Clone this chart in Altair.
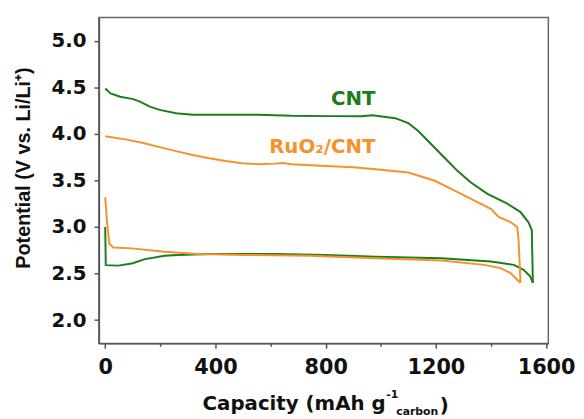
import altair as alt
import pandas as pd

# ---- data ----
cnt_dis_cap = [0, 2, 48, 100, 144, 216, 264, 383, 622, 800, 981, 1220, 1399, 1483, 1518, 1542, 1552]
cnt_dis_pot = [3.00, 2.59, 2.585, 2.61, 2.655, 2.69, 2.70, 2.71, 2.71, 2.70, 2.68, 2.664, 2.63, 2.593, 2.54, 2.47, 2.40]

cnt_chg_cap = [0, 19, 54, 102, 126, 162, 198, 257, 317, 437, 556, 676, 800, 930, 969, 1052, 1100, 1136, 1184,
               1232, 1279, 1327, 1387, 1459, 1507, 1536, 1548, 1552]
cnt_chg_pot = [4.486, 4.433, 4.398, 4.373, 4.345, 4.292, 4.257, 4.22, 4.204, 4.204, 4.204, 4.193, 4.19, 4.188,
               4.20, 4.168, 4.115, 4.03, 3.885, 3.74, 3.60, 3.478, 3.355, 3.25, 3.16, 3.05, 2.965, 2.40]

ru_dis_cap = [0, 6, 15, 30, 96, 216, 335, 500, 742, 981, 1220, 1375, 1435, 1471, 1495, 1507]
ru_dis_pot = [3.32, 3.07, 2.82, 2.78, 2.77, 2.735, 2.71, 2.70, 2.69, 2.665, 2.64, 2.593, 2.558, 2.505, 2.434, 2.40]

ru_chg_cap = [0, 78, 138, 198, 257, 317, 377, 437, 497, 556, 616, 646, 676, 800, 900, 981, 1100, 1196, 1268,
              1340, 1399, 1429, 1471, 1495, 1500, 1507]
ru_chg_pot = [3.973, 3.938, 3.902, 3.857, 3.814, 3.772, 3.737, 3.708, 3.684, 3.673, 3.68, 3.687, 3.673, 3.655,
              3.64, 3.62, 3.584, 3.496, 3.39, 3.283, 3.195, 3.106, 3.053, 3.0, 2.86, 2.40]

samples = ["CNT", "RuO\u2082/CNT"]
colors = ["#1b7d1b", "#f5922b"]
label_cap = [981, 981]
label_pot = [4.313, 3.793]

x_ticks = [0, 200, 400, 600, 800, 1000, 1200, 1400, 1600]
y_ticks = [2.0, 2.25, 2.5, 2.75, 3.0, 3.25, 3.5, 3.75, 4.0, 4.25, 4.5, 4.75, 5.0]

# ---- table ----
rows = []
for curve, sample, caps, pots in [
    ("cnt_dis", samples[0], cnt_dis_cap, cnt_dis_pot),
    ("cnt_chg", samples[0], cnt_chg_cap, cnt_chg_pot),
    ("ru_dis", samples[1], ru_dis_cap, ru_dis_pot),
    ("ru_chg", samples[1], ru_chg_cap, ru_chg_pot),
]:
    for i, (c, p) in enumerate(zip(caps, pots)):
        rows.append({"curve": curve, "sample": sample, "cap": c, "pot": p, "idx": i})
df = pd.DataFrame(rows)
ann = pd.DataFrame({"sample": samples, "cap": label_cap, "pot": label_pot})

xs = alt.Scale(domain=[-23, 1608], nice=False, zero=False)
ys = alt.Scale(domain=[1.75, 5.25], nice=False, zero=False)
cs = alt.Scale(domain=samples, range=colors)

x_axis = alt.Axis(
    values=x_ticks, title=None, grid=False, labelOverlap=False, labelFlush=False,
    labelExpr="datum.value % 400 === 0 ? format(datum.value, 'd') : ''",
    tickSize=alt.condition("datum.value % 400 === 0", alt.value(5), alt.value(3)),
    labelFont="DejaVu Sans", labelFontWeight="bold", labelFontSize=21, labelColor="#111",
    labelPadding=8,
)
y_axis = alt.Axis(
    values=y_ticks, grid=False, labelOverlap=False, labelFlush=False,
    labelExpr="abs(datum.value*2 - round(datum.value*2)) < 0.001 ? format(datum.value, '.1f') : ''",
    tickSize=alt.condition("abs(datum.value*2 - round(datum.value*2)) < 0.001", alt.value(5), alt.value(3)),
    labelFont="DejaVu Sans", labelFontWeight="bold", labelFontSize=20, labelColor="#111",
    labelPadding=8,
    title="Potential (V vs. Li/Li\u207a)", titleFont="Liberation Sans", titleFontWeight="bold",
    titleFontSize=20, titleColor="#111", titleX=-70, titleY=152, titleAngle=270,
    titleAlign="center", titleBaseline="alphabetic",
)

lines = alt.Chart(df).mark_line(strokeWidth=2).encode(
    x=alt.X("cap:Q", scale=xs, axis=x_axis),
    y=alt.Y("pot:Q", scale=ys, axis=y_axis),
    color=alt.Color("sample:N", scale=cs, legend=None),
    detail="curve:N",
    order="idx:Q",
)

labels = alt.Chart(ann).mark_text(
    align="right", baseline="alphabetic", font="DejaVu Sans", fontWeight="bold", fontSize=20
).encode(
    x=alt.X("cap:Q", scale=xs),
    y=alt.Y("pot:Q", scale=ys),
    text="sample:N",
    color=alt.Color("sample:N", scale=cs, legend=None),
)

def tpiece(txt, px, py, size):
    return alt.Chart(pd.DataFrame({"t": [txt]})).mark_text(
        align="left", baseline="alphabetic", font="DejaVu Sans", fontWeight="bold",
        fontSize=size, color="#111"
    ).encode(x=alt.value(px), y=alt.value(py), text="t:N")

xt1 = tpiece("Capacity (mAh g", 105, 397, 20)
xt2 = tpiece("-1", 291, 385, 11)
xt3 = tpiece("carbon", 301, 402, 11)
xt4 = tpiece(")", 345, 399, 20)

chart = alt.layer(lines, labels, xt1, xt2, xt3, xt4).properties(
    width=455, height=330,
    autosize=alt.AutoSizeParams(type="none"),
    padding={"left": 92, "top": 7, "right": 28, "bottom": 72},
).configure_view(
    stroke="#666", strokeWidth=1.5
).configure_axis(
    domainColor="#555", domainWidth=1.5, tickColor="#555", tickWidth=1.5
)

chart.save("out.html", embed_options={"renderer": "svg", "actions": False})
